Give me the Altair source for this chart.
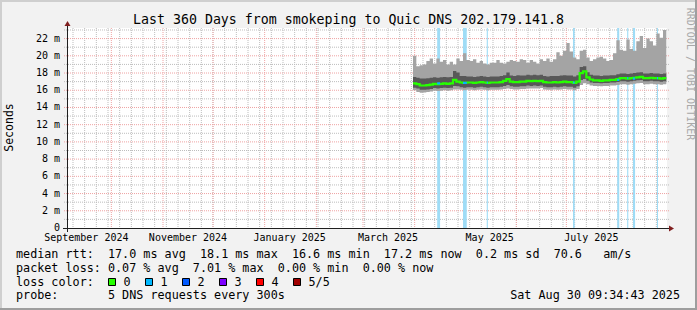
import altair as alt
import pandas as pd

# ---------------- data ----------------
sample_dates = pd.date_range("2025-03-31", periods=77, freq="2D").strftime("%Y-%m-%dT%H:%M:%S").tolist()

p5 = [20.0, 18.8, 18.9, 19.0, 19.4, 19.7, 19.1, 19.7, 19.3, 19.5,
      19.0, 19.3, 19.0, 19.7, 19.4, 20.3, 19.5, 19.4, 19.6, 19.2,
      19.4, 19.1, 19.0, 19.2, 19.2, 19.5, 19.2, 19.1, 19.3, 19.5,
      19.4, 19.3, 19.6, 19.5, 19.2, 19.5, 19.3, 19.1, 19.6, 19.4,
      19.7, 19.3, 19.6, 20.4, 20.0, 20.6, 21.5, 20.5, 19.8, 19.6,
      20.6, 20.7, 19.8, 19.4, 19.6, 19.8, 19.9, 19.7, 19.4, 19.5,
      20.3, 21.8, 20.7, 20.6, 21.9, 20.8, 20.6, 21.7, 22.3, 20.9,
      22.0, 21.7, 21.2, 22.6, 22.1, 23.0, 22.4]
p4 = [17.55, 17.45, 17.35, 17.35, 17.4, 17.45, 17.5, 17.45, 17.5, 17.55,
      17.5, 17.55, 18.25, 18.05, 17.65, 17.65, 17.6, 17.6, 17.55, 17.6,
      17.65, 17.6, 17.55, 17.6, 17.6, 17.6, 17.65, 17.75, 18.05, 17.7,
      17.65, 17.75, 17.7, 17.7, 17.8, 17.75, 17.8, 17.75, 17.8, 17.65,
      17.6, 17.65, 17.65, 17.65, 17.7, 17.75, 17.7, 17.7, 17.6, 17.75,
      18.7, 18.8, 18.1, 17.8, 17.7, 17.7, 17.65, 17.7, 17.7, 17.75,
      17.75, 17.85, 17.95, 17.95, 17.9, 17.95, 18.0, 18.05, 18.1, 17.95,
      17.95, 18.0, 17.95, 17.95, 17.9, 17.95, 17.95]
p3 = [16.8, 16.7, 16.55, 16.55, 16.6, 16.65, 16.75, 16.7, 16.75, 16.8,
      16.75, 16.8, 17.2, 17.0, 16.9, 16.85, 16.9, 16.9, 16.85, 16.9,
      16.95, 16.9, 16.85, 16.9, 16.9, 16.9, 16.95, 17.1, 17.3, 17.0,
      16.95, 16.95, 17.0, 17.0, 17.1, 17.05, 17.1, 17.05, 17.1, 16.95,
      16.9, 16.9, 16.95, 16.9, 16.95, 17.0, 16.95, 16.95, 16.85, 17.0,
      18.0, 18.2, 17.5, 17.25, 17.15, 17.15, 17.1, 17.15, 17.15, 17.2,
      17.2, 17.3, 17.4, 17.4, 17.35, 17.4, 17.45, 17.5, 17.55, 17.4,
      17.4, 17.45, 17.4, 17.4, 17.35, 17.4, 17.4]
p2 = [16.3, 16.2, 16.05, 16.05, 16.1, 16.15, 16.25, 16.2, 16.25, 16.3,
      16.25, 16.3, 16.5, 16.45, 16.35, 16.3, 16.35, 16.35, 16.3, 16.35,
      16.4, 16.35, 16.3, 16.35, 16.35, 16.35, 16.4, 16.5, 16.6, 16.45,
      16.4, 16.4, 16.45, 16.45, 16.55, 16.5, 16.55, 16.5, 16.55, 16.4,
      16.35, 16.35, 16.4, 16.35, 16.4, 16.45, 16.4, 16.4, 16.3, 16.45,
      17.2, 17.3, 17.1, 16.9, 16.85, 16.85, 16.8, 16.85, 16.85, 16.9,
      16.9, 16.95, 17.05, 17.05, 17.0, 17.05, 17.1, 17.15, 17.2, 17.05,
      17.05, 17.1, 17.05, 17.05, 17.0, 17.05, 17.05]
p1 = [16.0, 15.8, 15.7, 15.75, 15.8, 15.85, 15.95, 15.9, 15.95, 16.0,
      15.95, 16.0, 16.1, 16.1, 16.05, 16.0, 16.05, 16.05, 16.0, 16.05,
      16.1, 16.05, 16.0, 16.05, 16.05, 16.05, 16.1, 16.15, 16.2, 16.15,
      16.1, 16.1, 16.15, 16.15, 16.2, 16.2, 16.2, 16.2, 16.25, 16.1,
      16.05, 16.05, 16.1, 16.05, 16.1, 16.15, 16.1, 16.1, 16.0, 16.15,
      16.6, 16.8, 16.7, 16.55, 16.5, 16.5, 16.45, 16.5, 16.5, 16.55,
      16.55, 16.6, 16.7, 16.7, 16.65, 16.7, 16.75, 16.8, 16.85, 16.7,
      16.7, 16.75, 16.7, 16.7, 16.65, 16.7, 16.7]

loss_start = ["2025-04-14T12:00:00", "2025-04-30T00:00:00", "2025-05-14T06:00:00",
              "2025-07-05T00:00:00", "2025-07-31T12:00:00", "2025-08-06T12:00:00",
              "2025-08-10T00:00:00", "2025-08-24T09:00:00"]
loss_end = ["2025-04-16T06:00:00", "2025-05-02T06:00:00", "2025-05-14T22:00:00",
            "2025-07-06T00:00:00", "2025-08-01T18:00:00", "2025-08-07T04:00:00",
            "2025-08-11T06:00:00", "2025-08-25T00:00:00"]
loss_median = [16.8, 16.85, 16.9, 16.9, 17.2, 17.4, 17.35, 17.4]

month_lines = pd.date_range("2024-10-01", "2025-08-01", freq="MS").strftime("%Y-%m-%dT%H:%M:%S").tolist()
week_lines = pd.date_range("2024-09-08", "2025-08-24", freq="7D").strftime("%Y-%m-%dT%H:%M:%S").tolist()

xlabel_dates = ["2024-09-16T00:00:00", "2024-11-16T00:00:00", "2025-01-16T00:00:00",
                "2025-03-16T00:00:00", "2025-05-16T00:00:00", "2025-07-16T00:00:00"]
xlabel_text = ["September 2024", "November 2024", "January 2025",
               "March 2025", "May 2025", "July 2025"]
ytick_vals = [0, 2, 4, 6, 8, 10, 12, 14, 16, 18, 20, 22]
ytick_text = ["0", "2 m", "4 m", "6 m", "8 m", "10 m", "12 m", "14 m", "16 m", "18 m", "20 m", "22 m"]
minor_y = [1, 3, 5, 7, 9, 11, 13, 15, 17, 19, 21, 23]
major_y = [2, 4, 6, 8, 10, 12, 14, 16, 18, 20, 22]

legend_rows = [
    "median rtt:  17.0 ms avg  18.1 ms max  16.6 ms min  17.2 ms now  0.2 ms sd  70.6   am/s",
    "packet loss: 0.07 % avg  7.01 % max  0.00 % min  0.00 % now",
    "loss color:",
    "probe:       5 DNS requests every 300s",
]
loss_labels = ["0", "1", "2", "3", "4", "5/5"]
loss_colors = ["#26ff00", "#00b8ff", "#0059ff", "#7e00ff", "#ff0000", "#a10000"]

# ---------------- styling ----------------
MONO = "DejaVu Sans Mono"
BACK = "#f2f2f2"
SHADEA = "#cfcfcf"
SHADEB = "#9e9e9e"
AXIS = "#1f1f1f"
ARROW = "#801f1f"
GRID = "#bdbdbd"
MGRID = "#efa3a3"
NBSP = "\u00a0"

xs = alt.Scale(domain=[alt.DateTime(year=2024, month=9, date=4, hours=9, minutes=34, seconds=43),
                       alt.DateTime(year=2025, month=8, date=30, hours=9, minutes=34, seconds=43)])
ys = alt.Scale(domain=[0, 23.23], nice=False, zero=False)


def X(f="t"):
    return alt.X(f"{f}:T", scale=xs, axis=None)


def Y(f):
    return alt.Y(f"{f}:Q", scale=ys, axis=None)


dummy = pd.DataFrame({"d": [0]})
smoke = pd.DataFrame({"t": sample_dates, "p1": p1, "p2": p2, "p3": p3, "p4": p4, "p5": p5})
loss = pd.DataFrame({"t": loss_start, "t2": loss_end, "med": loss_median})
weeks = pd.DataFrame({"t": week_lines})
months = pd.DataFrame({"t": month_lines})
hmin = pd.DataFrame({"v": minor_y})
hmaj = pd.DataFrame({"v": major_y})
xlab = pd.DataFrame({"t": xlabel_dates, "label": [s.replace(" ", NBSP) for s in xlabel_text]})
ylab = pd.DataFrame({"v": ytick_vals, "label": [s.replace(" ", NBSP) for s in ytick_text]})

layers = []


def box(x, x2, y, y2, color):
    return alt.Chart(dummy).mark_rect(color=color).encode(
        x=alt.value(x), x2=alt.value(x2), y=alt.value(y), y2=alt.value(y2))


# 3D frame
layers += [box(-67, 630, -28, -26, SHADEA), box(-67, -65, -28, 282, SHADEA),
           box(-67, 630, 280, 282, SHADEB), box(628, 630, -28, 282, SHADEB)]

# grid
layers.append(alt.Chart(weeks).mark_rule(color=GRID, strokeDash=[1, 1]).encode(
    x=X(), y=alt.value(0), y2=alt.value(202)))
layers.append(alt.Chart(months).mark_rule(color=MGRID, strokeDash=[1, 1]).encode(
    x=X(), y=alt.value(0), y2=alt.value(202)))
layers.append(alt.Chart(hmin).mark_rule(color=GRID, strokeDash=[1, 1]).encode(
    y=Y("v"), x=alt.value(-3), x2=alt.value(602)))
layers.append(alt.Chart(hmaj).mark_rule(color=MGRID, strokeDash=[1, 1]).encode(
    y=Y("v"), x=alt.value(-3), x2=alt.value(602)))

# loss background
layers.append(alt.Chart(loss).mark_rect(color="#9fdcf6").encode(
    x=X(), x2="t2:T", y=alt.value(0), y2=alt.value(200)))

# smoke
layers.append(alt.Chart(smoke).mark_area(color="#a4a4a4", interpolate="step-after").encode(
    x=X(), y=Y("p1"), y2="p5:Q"))
layers.append(alt.Chart(smoke).mark_area(color="#585858", interpolate="step-after").encode(
    x=X(), y=Y("p2"), y2="p4:Q"))
layers.append(alt.Chart(smoke).mark_line(color="#26ff00", strokeWidth=2.2, interpolate="step-after").encode(
    x=X(), y=Y("p3")))
layers.append(alt.Chart(loss).mark_rule(color="#00b8ff", strokeWidth=2.2).encode(
    x=X(), x2="t2:T", y=Y("med")))

# axes
layers.append(alt.Chart(dummy).mark_rule(color=AXIS).encode(
    x=alt.value(-4), x2=alt.value(604), y=alt.value(200.5)))
layers.append(alt.Chart(dummy).mark_rule(color=AXIS).encode(
    x=alt.value(0.5), y=alt.value(-4), y2=alt.value(204)))
layers.append(alt.Chart(dummy).mark_point(shape="M-1,0L1,0L0,-1.667Z", size=36, filled=True,
                                          color=ARROW, opacity=1, strokeWidth=0).encode(
    x=alt.value(0.5), y=alt.value(-2)))
layers.append(alt.Chart(dummy).mark_point(shape="M0,-1L0,1L1.667,0Z", size=36, filled=True,
                                          color=ARROW, opacity=1, strokeWidth=0).encode(
    x=alt.value(602), y=alt.value(200.5)))

# axis labels
layers.append(alt.Chart(xlab).mark_text(font=MONO, fontSize=10, align="center", baseline="alphabetic",
                                        color="black").encode(
    x=X(), y=alt.value(212.6), text="label:N"))
layers.append(alt.Chart(ylab).mark_text(font=MONO, fontSize=10, align="right", baseline="middle",
                                        color="black").encode(
    y=Y("v"), x=alt.value(-7), text="label:N"))


def txt(s, x, y, size=11.75, align="left", angle=0, color="black", baseline="alphabetic"):
    return alt.Chart(dummy).mark_text(text=s.replace(" ", NBSP), font=MONO, fontSize=size, align=align,
                                      baseline=baseline, angle=angle, color=color).encode(
        x=alt.value(x), y=alt.value(y))


layers.append(txt("Last 360 Days from smokeping to Quic DNS 202.179.141.8", 281.5, -4, size=13.25,
                  align="center"))
layers.append(txt("Seconds", -57, 99.5, size=11.5, align="center", angle=270, baseline="middle"))
layers.append(txt("RRDTOOL / TOBI OETIKER", 623, 46, size=10, align="center", angle=90,
                  baseline="middle", color="#a8a8a8"))

rows_y = [230.3, 244.0, 257.7, 271.3]
for s, yy in zip(legend_rows, rows_y):
    layers.append(txt(s, -51, yy))
for i, (lab, col) in enumerate(zip(loss_labels, loss_colors)):
    x0 = 41.5 + 37 * i
    layers.append(alt.Chart(dummy).mark_rect(color=col, stroke="black", strokeWidth=1).encode(
        x=alt.value(x0), x2=alt.value(x0 + 7), y=alt.value(250.5), y2=alt.value(257.5)))
    layers.append(txt(lab, x0 + 15, rows_y[2]))
layers.append(txt("Sat Aug 30 09:34:43 2025", 613, rows_y[3], align="right"))

chart = alt.layer(*layers).properties(
    width=600, height=200,
    autosize=alt.AutoSizeParams(type="none"),
    padding={"left": 67, "top": 28, "right": 30, "bottom": 82},
    background=BACK,
).configure_view(fill="white", strokeWidth=0)

chart.save("out.html", embed_options={"renderer": "svg", "actions": False})
